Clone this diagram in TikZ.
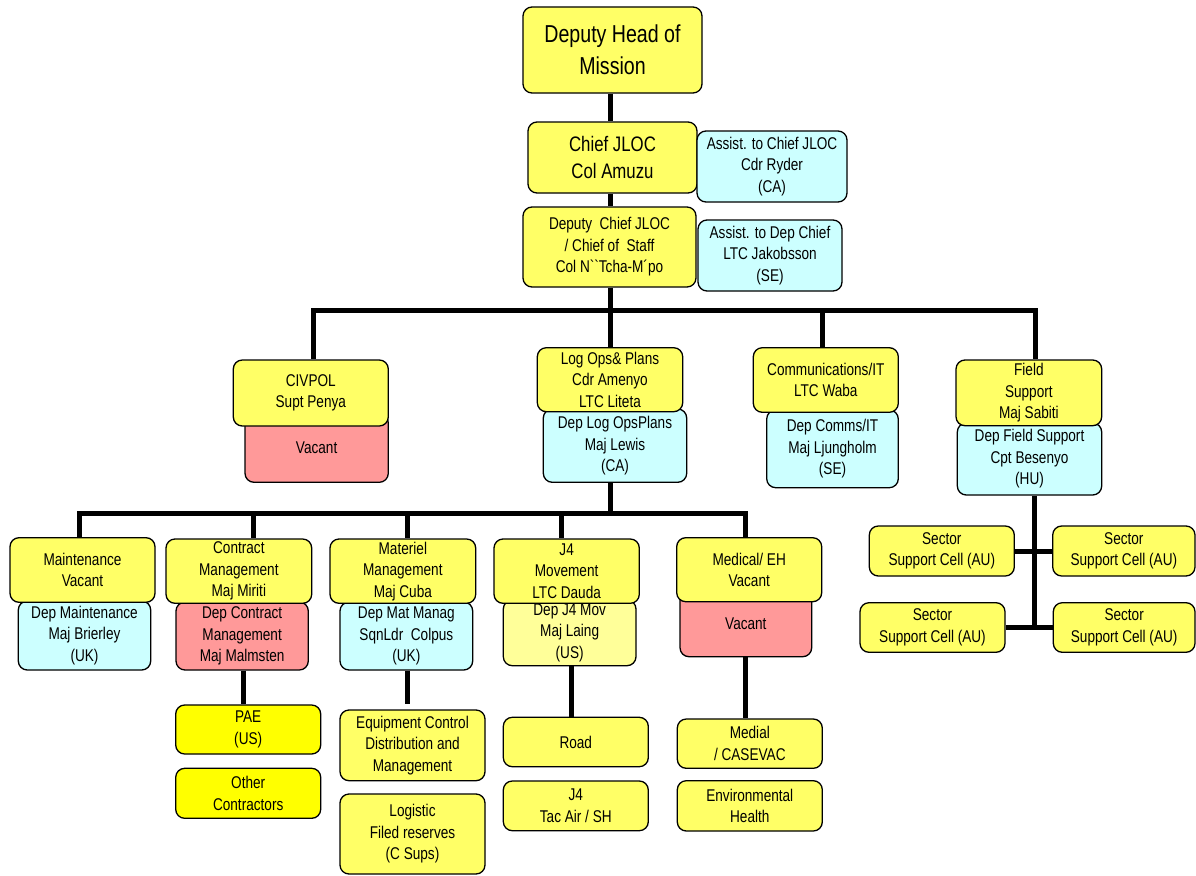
\documentclass[tikz,border=0pt]{standalone}
\usepackage{fontspec}
\newfontfamily\arn{Liberation Sans}[FakeStretch=0.8]
\definecolor{ycol}{HTML}{FFFF66}
\definecolor{ccol}{HTML}{CCFFFF}
\definecolor{rcol}{HTML}{FF9999}
\definecolor{pcol}{HTML}{FFFF00}
\definecolor{lycol}{HTML}{FFFF99}
\pgfdeclarelayer{background}
\pgfsetlayers{background,main}
\tikzset{
  basebox/.style={draw=black, line width=1.3pt, rounded corners=9pt, inner sep=0pt, align=center, text=black,
    font=\arn\fontsize{17}{21.5}\selectfont},
  ybox/.style={basebox, fill=ycol},
  cbox/.style={basebox, fill=ccol},
  rbox/.style={basebox, fill=rcol},
  pbox/.style={basebox, fill=pcol},
  lybox/.style={basebox, fill=lycol},
  bigbox/.style={ybox, font=\arn\fontsize{24.5}{32}\selectfont},
  midbox/.style={ybox, font=\arn\fontsize{21}{26.5}\selectfont},
  conn/.style={draw=black, line width=5pt}
}
\newcommand\mkbox[7]{\node[#1, minimum width={#5pt-#3pt}, minimum height={#6pt-#4pt}] (#2) at ({(#3+#5)/2},{(#4+#6)/2}) {#7};}
\begin{document}
\begin{tikzpicture}[x=1pt,y=-1pt]
\useasboundingbox (0,0) rectangle (1196,875);
% top
\mkbox{bigbox}{top}{523}{7}{702}{93}{Deputy Head of\\Mission}
\mkbox{midbox}{chief}{528}{122}{697}{193}{Chief JLOC\\Col Amuzu}
\mkbox{cbox}{asst1}{697}{131}{847}{202}{Assist. to Chief JLOC\\Cdr Ryder\\(CA)}
\mkbox{ybox}{depchief}{523}{207}{696}{287}{Deputy~~Chief JLOC\\/ Chief of~~Staff\\Col N``Tcha-M´po}
\mkbox{cbox}{asst2}{698}{220}{842}{291}{Assist. to Dep Chief\\LTC Jakobsson\\(SE)}
% second row: deputies first
\mkbox{rbox}{civvac}{245}{414}{388.3}{482.3}{Vacant}
\mkbox{cbox}{deplog}{543.3}{409}{686.7}{482.3}{Dep Log OpsPlans\\Maj Lewis\\(CA)}
\mkbox{cbox}{depcomms}{766.7}{410}{898.3}{487.7}{Dep Comms/IT\\Maj Ljungholm\\(SE)}
\mkbox{cbox}{depfield}{957.3}{423}{1101.7}{495}{Dep Field Support\\Cpt Besenyo\\(HU)}
\mkbox{ybox}{civ}{233.3}{360}{388.3}{426}{CIVPOL\\Supt Penya}
\mkbox{ybox}{logops}{537.3}{347.7}{682.7}{411.7}{Log Ops\& Plans\\Cdr Amenyo\\LTC Liteta}
\mkbox{ybox}{comms}{753.3}{347.7}{898.3}{412.3}{Communications/IT\\LTC Waba}
\mkbox{ybox}{field}{956}{360}{1101.7}{425.7}{Field\\Support\\Maj Sabiti}
% sector cells
\mkbox{ybox}{sec1}{869.3}{526}{1014.3}{576}{Sector\\Support Cell (AU)}
\mkbox{ybox}{sec2}{1052.7}{526}{1195}{576}{Sector\\Support Cell (AU)}
\mkbox{ybox}{sec3}{860}{602.7}{1005}{652.3}{Sector\\Support Cell (AU)}
\mkbox{ybox}{sec4}{1053.3}{602.7}{1195}{652.3}{Sector\\Support Cell (AU)}
% third row: deputies first
\mkbox{cbox}{depmaint}{18.3}{601}{150.7}{670}{Dep Maintenance\\Maj Brierley\\(UK)}
\mkbox{rbox}{depcon}{176}{602}{308.3}{670}{Dep Contract\\Management\\Maj Malmsten}
\mkbox{cbox}{depmat}{340}{602}{472.7}{670}{Dep Mat Manag\\SqnLdr~~Colpus\\(UK)}
\mkbox{lybox}{depj4}{503.3}{600}{636}{665.7}{Dep J4 Mov\\Maj Laing\\(US)}
\mkbox{rbox}{medvac}{680}{590}{811.7}{656.7}{Vacant}
\mkbox{ybox}{maint}{10}{537.7}{155}{602.3}{Maintenance\\Vacant}
\mkbox{ybox}{contract}{166}{539}{311.7}{603.3}{Contract\\Management\\Maj Miriti}
\mkbox{ybox}{mat}{330}{539}{475.7}{603.3}{Materiel\\Management\\Maj Cuba}
\mkbox{ybox}{j4}{494}{539}{639.3}{603.3}{J4\\Movement\\LTC Dauda}
\mkbox{ybox}{med}{676.7}{537.7}{821.7}{601.7}{Medical/ EH\\Vacant}
% fourth row
\mkbox{pbox}{pae}{175.7}{705}{320.7}{754}{PAE\\(US)}
\mkbox{pbox}{other}{175.7}{768.3}{320.7}{818.3}{Other\\Contractors}
\mkbox{ybox}{equip}{340}{710}{485}{780.7}{Equipment Control\\Distribution and\\Management}
\mkbox{ybox}{logist}{340}{794}{485}{874}{Logistic\\Filed reserves\\(C Sups)}
\mkbox{ybox}{road}{503.3}{717.3}{648.3}{766.7}{Road}
\mkbox{ybox}{tacair}{503.3}{781}{648.3}{830.7}{J4\\Tac Air / SH}
\mkbox{ybox}{medial}{677.3}{719}{822.3}{768.3}{Medial\\/ CASEVAC}
\mkbox{ybox}{env}{677.3}{780.7}{822.3}{831}{Environmental\\Health}
% connectors
\coordinate (busA) at (610,310);
\coordinate (busL) at (313,310);
\coordinate (busR) at (1035,310);
\coordinate (cX) at (822,310);
\coordinate (lbL) at (79.5,513.3);
\coordinate (lbR) at (745,513.3);
\coordinate (dC) at (253.3,513.3);
\coordinate (dM) at (407.3,513.3);
\coordinate (dJ) at (561,513.3);
\coordinate (sC) at (243.3,704);
\coordinate (sM) at (407.3,704);
\coordinate (sJ) at (571,717);
\coordinate (sV) at (745,717);
\coordinate (fX) at (1034,627.3);
\begin{pgfonlayer}{background}
\draw[conn] (top.south -| busA) -- (chief.north -| busA);
\draw[conn] (chief.south -| busA) -- (depchief.north -| busA);
\draw[conn] (depchief.south -| busA) -- (logops.north -| busA);
\draw[conn] (busL |- civ.north) -- (busL) -- (busR) -- (busR |- field.north);
\draw[conn] (cX) -- (cX |- comms.north);
\draw[conn] (deplog.south -| busA) -- (busA |- lbL);
\draw[conn] (lbL |- maint.north) -- (lbL) -- (lbR) -- (lbR |- med.north);
\draw[conn] (dC) -- (dC |- contract.north);
\draw[conn] (dM) -- (dM |- mat.north);
\draw[conn] (dJ) -- (dJ |- j4.north);
\draw[conn] (sC |- depcon.south) -- (sC);
\draw[conn] (sM |- depmat.south) -- (sM);
\draw[conn] (sJ |- depj4.south) -- (sJ |- road.north);
\draw[conn] (sV |- medvac.south) -- (sV |- medial.north);
\draw[conn] (fX |- depfield.south) -- (fX);
\draw[conn] (sec1.east) -- (sec2.west);
\draw[conn] (sec3.east) -- (sec4.west);
\end{pgfonlayer}
\end{tikzpicture}
\end{document}
